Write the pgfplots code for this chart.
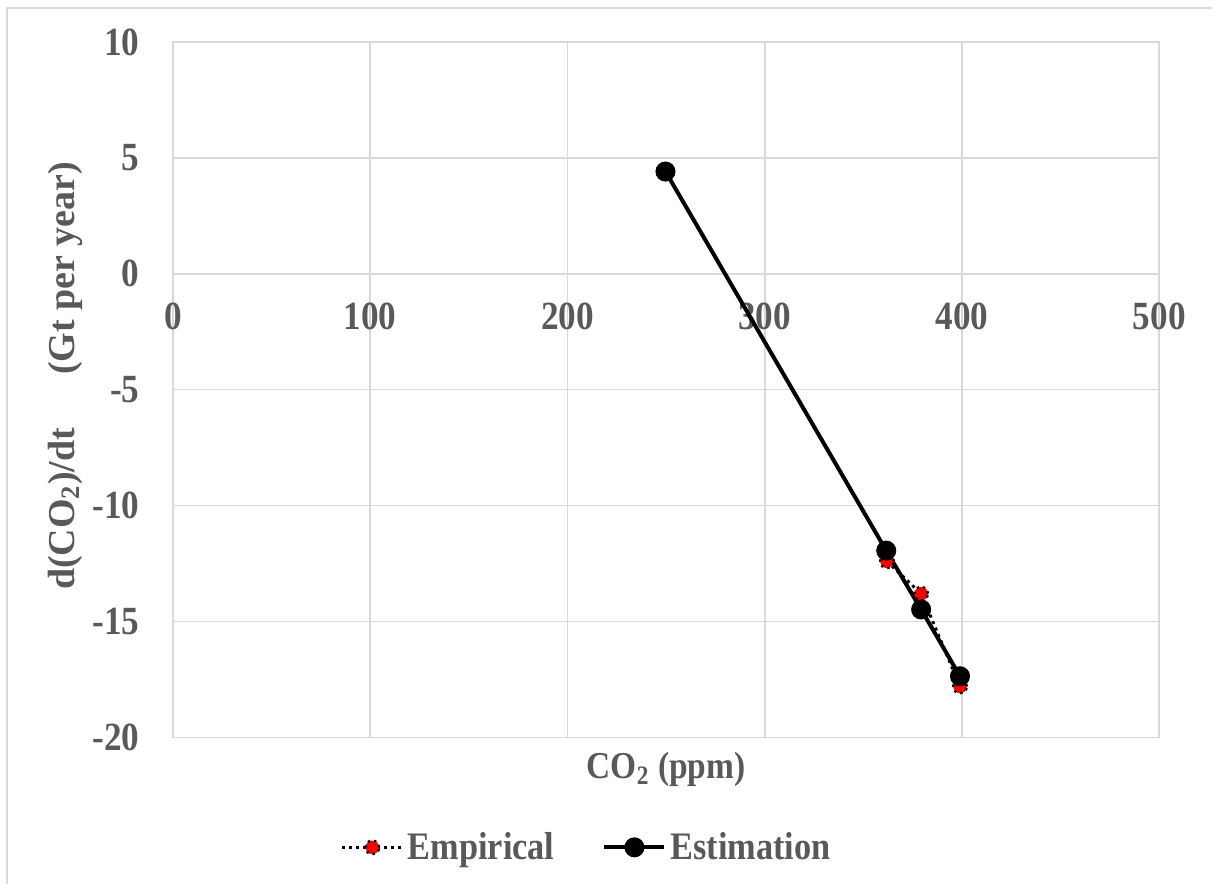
\documentclass[border=0pt]{standalone}
\usepackage{fontspec}
\setmainfont[FakeStretch=0.88]{Liberation Serif}
\newfontfamily\ylabfont{Liberation Serif}
\usepackage{pgfplots}
\pgfplotsset{compat=1.18}
\definecolor{txt}{HTML}{595959}
\definecolor{gridc}{HTML}{D9D9D9}

\begin{document}
\begin{tikzpicture}
\begin{axis}[
    scale only axis,
    width=493.5pt, height=348pt,
    xmin=0, xmax=500, ymin=-20, ymax=10,
    xtick={0,100,...,500}, ytick={-20,-15,...,10},
    grid=major, major grid style={draw=gridc, line width=0.8pt},
    axis line style={draw=gridc, line width=0.8pt},
    major tick length=0pt,
    /pgf/number format/assume math mode=true,
    tick label style={font=\fontsize{20}{24}\selectfont\bfseries, text=txt},
    xticklabel style={anchor=north, inner sep=0pt, yshift=217.5pt},
    yticklabel style={anchor=east, inner sep=0pt, xshift=-16.5pt},
    xlabel={CO\textsubscript{2} (ppm)},
    xlabel style={at={(axis description cs:0.5,-0.046)}, anchor=center,
                  font=\fontsize{19}{23}\selectfont\bfseries, text=txt},
    ylabel={d(CO\textsubscript{2})/dt\hspace{1.4em}(Gt per year)},
    ylabel style={at={(axis description cs:-0.1094,0.52)}, anchor=center,
                  font=\ylabfont\fontsize{19}{23}\selectfont\bfseries, text=txt},
    legend columns=-1,
    legend style={at={(axis description cs:0.4205,-0.158)}, anchor=center,
                  draw=none, fill=none, font=\fontsize{19.5}{23}\selectfont\bfseries,
                  text=txt,
                  /tikz/every even column/.append style={column sep=22pt}},
    legend image code/.code={
        \draw[mark repeat=2,mark phase=2] plot coordinates {(0pt,0pt) (15pt,0pt) (30pt,0pt)};},
    clip=false,
]
\addplot[black, line width=1.5pt, dotted, mark=*, mark size=3.4pt,
         mark options={solid, fill=red, draw=black, line width=1.2pt, dotted}]
    coordinates {(362,-12.4) (379.3,-13.8) (399,-17.8)};
\addlegendentry{Empirical}
\addplot[black, line width=2pt, mark=*, mark size=4pt, mark options={fill=black}]
    coordinates {(249.7,4.41) (361.6,-11.94) (379.3,-14.48) (399,-17.36)};
\addlegendentry{Estimation}
\coordinate (bl) at (axis description cs:-0.1753,-0.2112);
\coordinate (tr) at (axis description cs:1.0537,1.0603);
\draw[gridc, line width=0.8pt] (axis description cs:-0.1682,-0.2112)
    -- (axis description cs:-0.1682,1.0489) -- (axis description cs:1.0537,1.0489);
\end{axis}
\path (bl) rectangle (tr);
\end{tikzpicture}
\end{document}
